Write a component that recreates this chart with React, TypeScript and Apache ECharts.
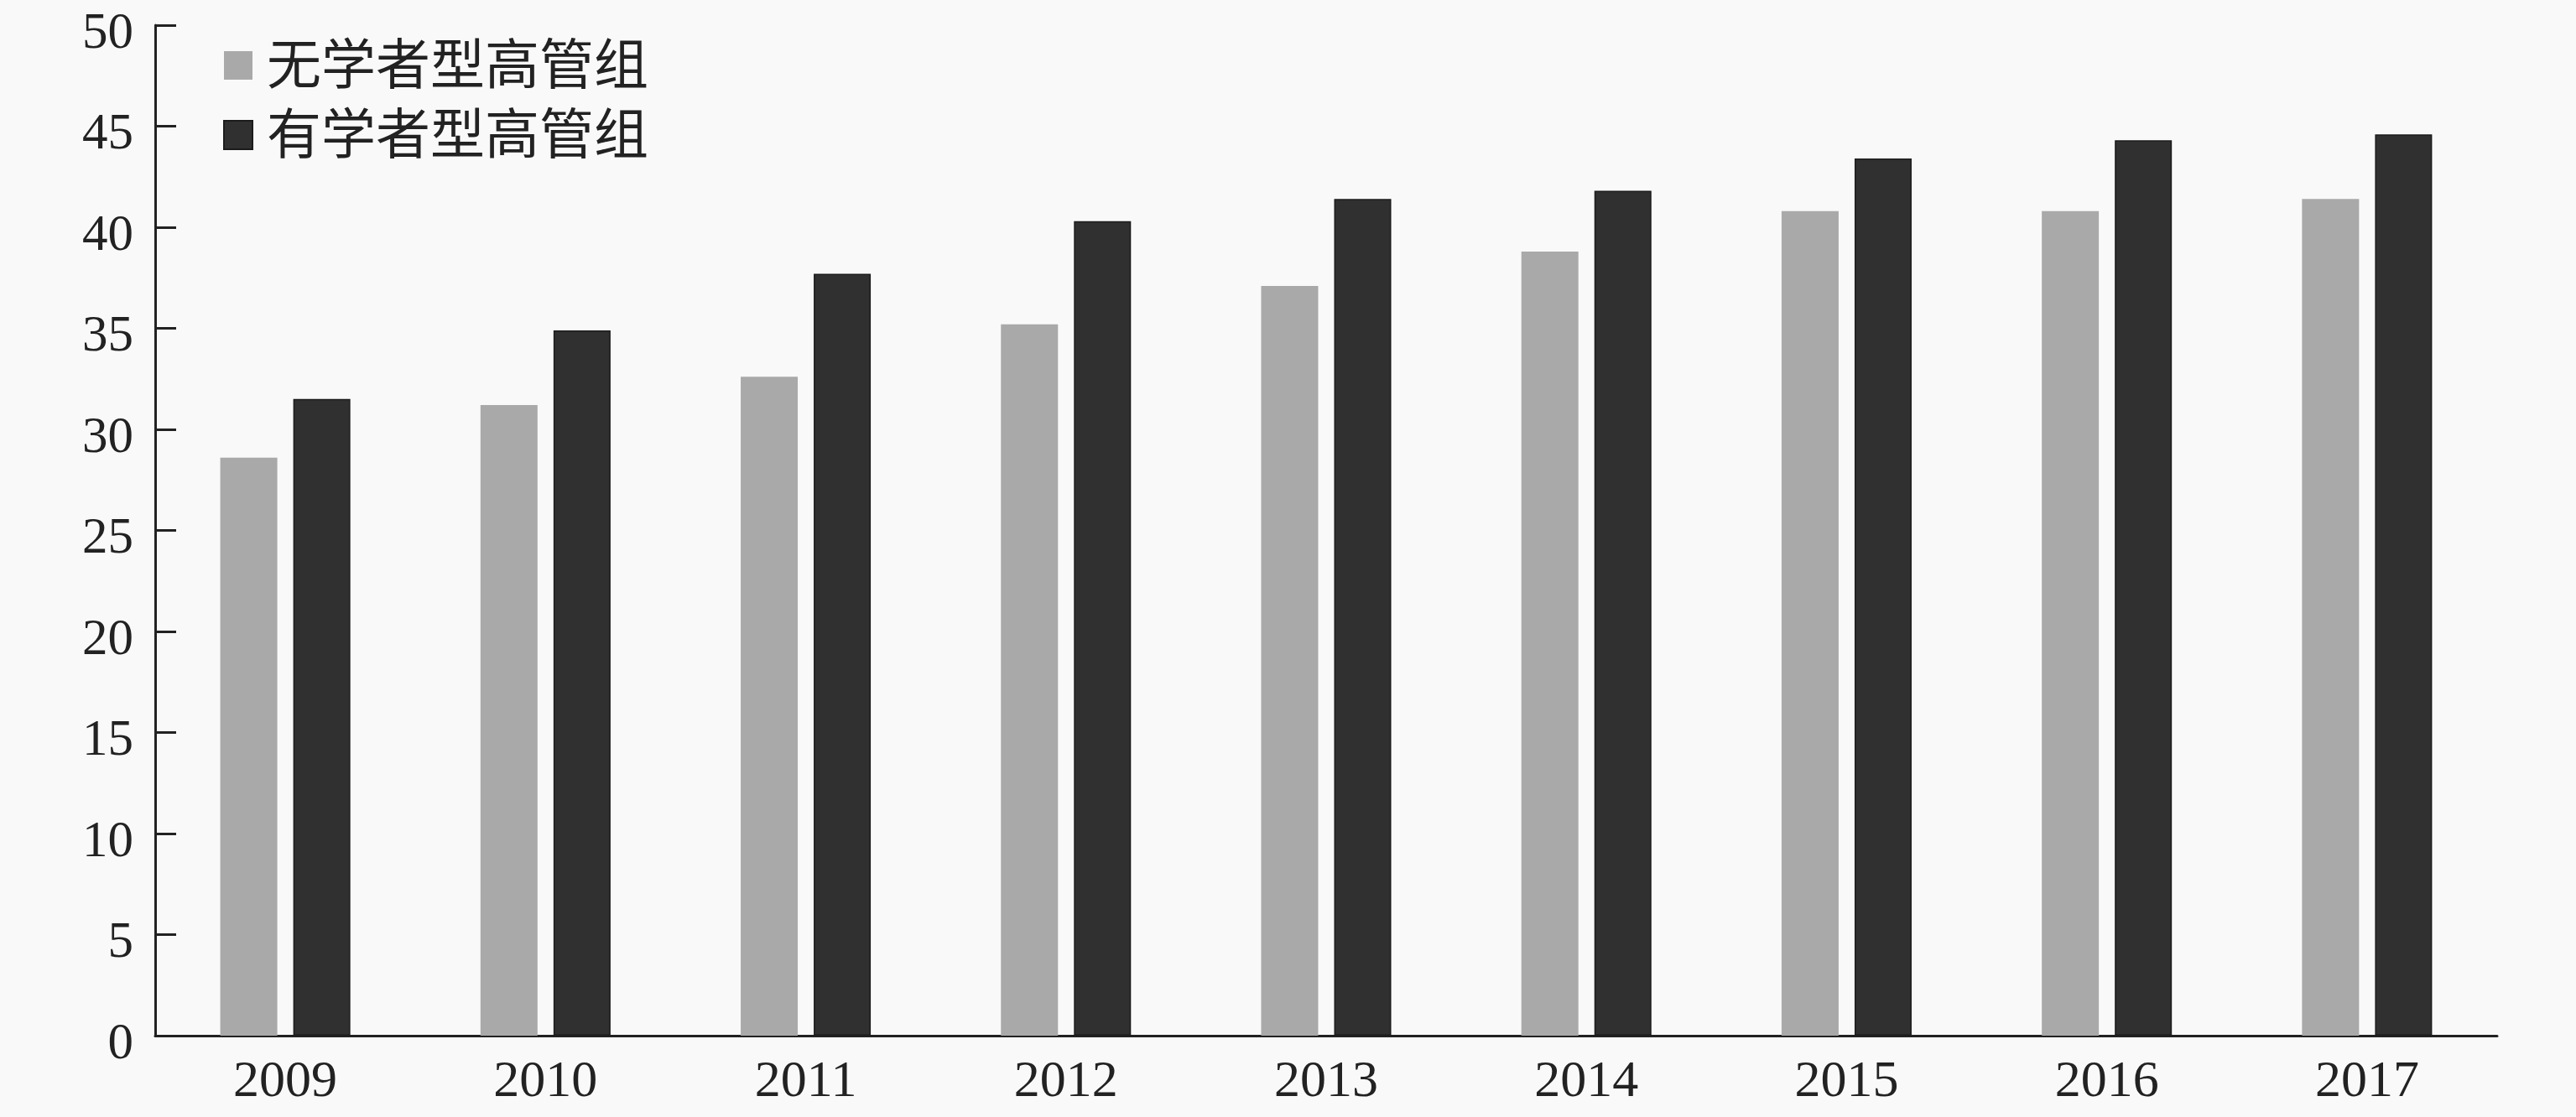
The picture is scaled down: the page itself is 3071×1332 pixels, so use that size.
import React, { useEffect, useRef } from "react";
import * as echarts from "echarts";

const years = ["2009", "2010", "2011", "2012", "2013", "2014", "2015", "2016", "2017"];
const seriesNames = ["无学者型高管组", "有学者型高管组"];
const noScholar = [28.6, 31.2, 32.6, 35.2, 37.1, 38.8, 40.8, 40.8, 41.4];
const withScholar = [31.5, 34.9, 37.7, 40.3, 41.4, 41.8, 43.4, 44.3, 44.6];

const FONT = "'Liberation Serif', 'Times New Roman', 'Noto Sans CJK SC', serif";

export default function App() {
  const ref = useRef<HTMLDivElement>(null);
  useEffect(() => {
    document.body.style.margin = "0";
    const chart = echarts.init(ref.current!, null, { renderer: "svg" });
    chart.setOption({
      animation: false,
      backgroundColor: "#f9f9f9",
      grid: {
        left: 185,
        right: 94,
        top: 30,
        bottom: 97,
        containLabel: false,
        outerBoundsMode: "none",
      },
      legend: {
        orient: "vertical",
        left: 261,
        top: 40,
        itemWidth: 34,
        itemHeight: 34,
        itemGap: 17,
        icon: "rect",
        textStyle: {
          fontFamily: FONT,
          fontSize: 65,
          color: "#222",
          lineHeight: 66,
          padding: [0, 0, 0, 12],
        },
        data: seriesNames,
      },
      xAxis: {
        type: "category",
        data: years,
        axisLine: { show: true, lineStyle: { color: "#222", width: 3 } },
        axisTick: { show: false },
        axisLabel: { fontFamily: FONT, fontSize: 62, color: "#222", margin: 20 },
      },
      yAxis: {
        type: "value",
        min: 0,
        max: 50,
        interval: 5,
        splitLine: { show: false },
        axisLine: { show: true, lineStyle: { color: "#222", width: 3 } },
        axisTick: { show: true, inside: true, length: 25, lineStyle: { color: "#222", width: 3 } },
        axisLabel: {
          fontFamily: FONT,
          fontSize: 61,
          lineHeight: 12,
          verticalAlign: "top",
          color: "#222",
          margin: 26,
        },
      },
      series: [
        {
          name: seriesNames[0],
          type: "bar",
          data: noScholar,
          barWidth: 68,
          barGap: "28%",
          itemStyle: { color: "#a9a9a9" },
        },
        {
          name: seriesNames[1],
          type: "bar",
          data: withScholar,
          barWidth: 68,
          itemStyle: { color: "#303030", borderColor: "#1c1c1c", borderWidth: 1.5 },
        },
      ],
    });
    return () => chart.dispose();
  }, []);
  return <div ref={ref} style={{ width: 3071, height: 1332 }} />;
}
